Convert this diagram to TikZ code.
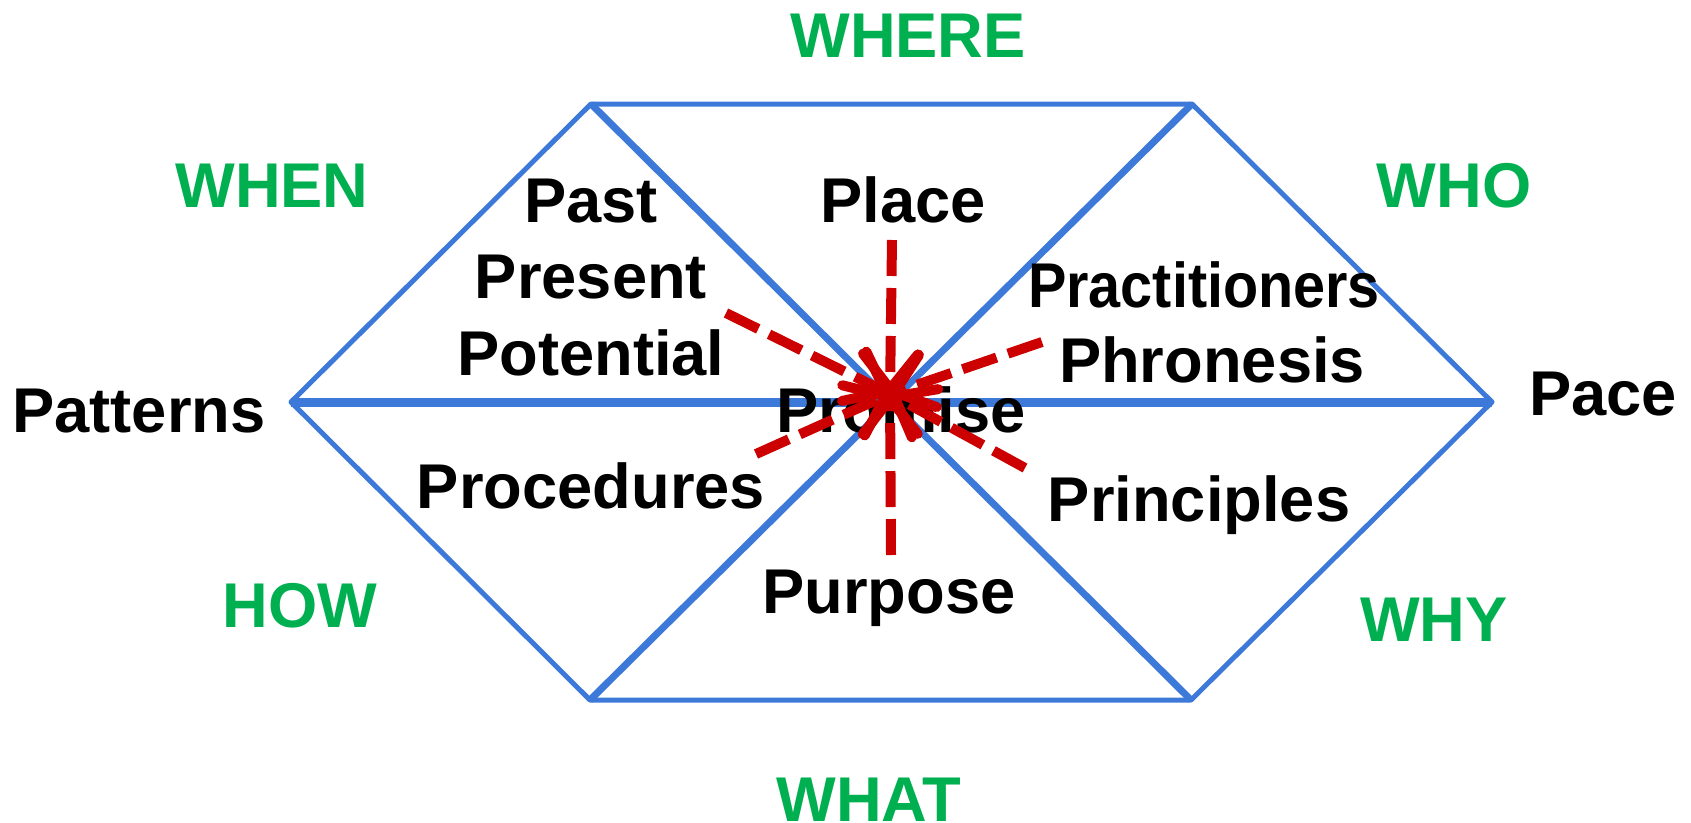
\documentclass[tikz,border=0pt]{standalone}
\usepackage{fontspec}
\setmainfont{Liberation Sans}
\usetikzlibrary{arrows.meta}

\definecolor{hexblue}{RGB}{61,121,216}
\definecolor{askgreen}{RGB}{0,176,80}
\definecolor{linkred}{RGB}{204,0,0}

\tikzset{
  word/.style={font=\fontsize{36}{40}\selectfont\bfseries, anchor=base, inner sep=0pt},
  ask/.style={word, text=askgreen},
  rim/.style={draw=hexblue, line width=0.1cm, line join=round},
  spoke/.style={draw=hexblue, line width=0.14cm},
  link/.style={draw=linkred, line width=0.2cm, dash pattern=on 0.72cm off 0.24cm,
    -{Straight Barb[length=0.7cm,width=1.1cm,round]}}
}

\begin{document}
\begin{tikzpicture}[x=0.02cm, y=-0.02cm]
\useasboundingbox (0,0) rectangle (1691,822);

\coordinate (L) at (291,402);
\coordinate (TL) at (591,104);
\coordinate (TR) at (1192,104);
\coordinate (R) at (1492,402);
\coordinate (BR) at (1191,700);
\coordinate (BL) at (590,700);

\draw[rim] (L) -- (TL) -- (TR) -- (R) -- (BR) -- (BL) -- cycle;
\draw[spoke, line width=0.18cm] (L) -- (R);
\draw[spoke] (TL) -- (BR);
\draw[spoke] (TR) -- (BL);

\node[ask] (where) at (908,57) {WHERE};
\node[ask] (when) at (272,207) {WHEN};
\node[ask] (who) at (1454,207) {WHO};
\node[ask] (how) at (300,627) {HOW};
\node[ask] (why) at (1434,641) {WHY};
\node[ask] (what) at (869,821) {WHAT};

\node[word] (past) at (591,222) {Past};
\node[word] (present) at (591,298) {Present};
\node[word] (potential) at (591,375) {Potential};
\node[word] (place) at (903,222) {Place};
\node[word] (practitioners) at (1204,307) {\scalebox{0.91}[1]{Practitioners}};
\node[word] (phronesis) at (1212,382) {Phronesis};
\node[word] (patterns) at (139,432) {Patterns};
\node[word] (promise) at (901,432) {Promise};
\node[word] (pace) at (1603,415) {Pace};
\node[word] (procedures) at (591,508) {Procedures};
\node[word] (principles) at (1199,521) {Principles};
\node[word] (purpose) at (889,613) {Purpose};

\coordinate (hub) at (890,394);
\coordinate (fromplace) at (892,240);
\coordinate (frompotential) at (726,313);
\coordinate (fromphronesis) at (1042,342);
\coordinate (fromprocedures) at (756,454);
\coordinate (fromprinciples) at (1025,468);
\coordinate (frompurpose) at (891,555);

\foreach \s in {fromplace,frompotential,fromphronesis,fromprocedures,fromprinciples,frompurpose}
  \draw[link] (\s) -- (hub);
\end{tikzpicture}
\end{document}
